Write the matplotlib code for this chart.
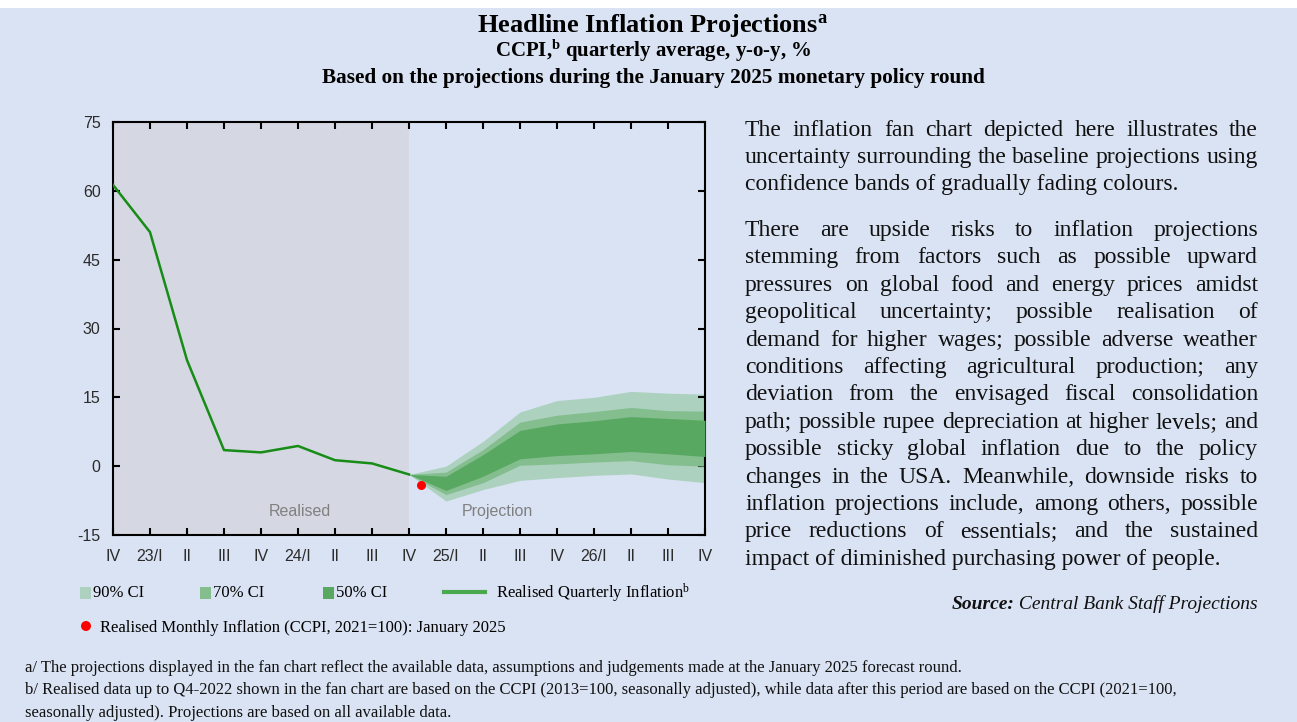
import numpy as np
import matplotlib
matplotlib.use("Agg")
import matplotlib.pyplot as plt
from matplotlib.patches import Rectangle, Ellipse
from matplotlib.lines import Line2D

plt.rcParams["mathtext.fontset"] = "custom"
plt.rcParams["mathtext.rm"] = "Liberation Serif"
plt.rcParams["mathtext.bf"] = "Liberation Serif:bold"
plt.rcParams["mathtext.it"] = "Liberation Serif:italic"
plt.rcParams["axes.unicode_minus"] = False

W, H = 1297, 722

# ---- data ----
quarter_labels = ["IV", "23/I", "II", "III", "IV", "24/I", "II", "III", "IV",
                  "25/I", "II", "III", "IV", "26/I", "II", "III", "IV"]
realised = [61.3, 51.0, 23.1, 3.5, 3.0, 4.4, 1.3, 0.6, -1.8]   # Q4-22 .. Q4-24
# fan bands, Q4-24 .. Q4-26
ci90_hi = [-1.8, 0.0, 5.4, 11.8, 14.3, 15.0, 16.3, 15.9, 15.7]
ci70_hi = [-1.8, -1.3, 3.6, 9.6, 11.1, 11.9, 12.8, 12.1, 12.0]
ci50_hi = [-1.8, -2.2, 2.5, 7.8, 9.2, 9.9, 10.8, 10.4, 10.0]
ci50_lo = [-1.8, -5.3, -2.2, 1.6, 2.3, 2.7, 3.2, 2.7, 2.1]
ci70_lo = [-1.8, -6.2, -3.6, 0.2, 0.5, 0.9, 1.2, 0.3, 0.0]
ci90_lo = [-1.8, -7.6, -5.1, -3.1, -2.5, -2.0, -1.7, -2.8, -3.6]
monthly_pos = 8.33          # January 2025
monthly_val = -4.0

para1 = ["The inflation fan chart depicted here illustrates the",
         "uncertainty surrounding the baseline projections using",
         "confidence bands of gradually fading colours."]
para2 = ["There are upside risks to inflation projections",
         "stemming from factors such as possible upward",
         "pressures on global food and energy prices amidst",
         "geopolitical uncertainty; possible realisation of",
         "demand for higher wages; possible adverse weather",
         "conditions affecting agricultural production; any",
         "deviation from the envisaged fiscal consolidation",
         "path; possible rupee depreciation at higher levels; and",
         "possible sticky global inflation due to the policy",
         "changes in the USA. Meanwhile, downside risks to",
         "inflation projections include, among others, possible",
         "price reductions of essentials; and the sustained",
         "impact of diminished purchasing power of people."]

notes = ["a/ The projections displayed in the fan chart reflect the available data, assumptions and "
         "judgements made at the January 2025 forecast round.",
         "b/ Realised data up to Q4-2022 shown in the fan chart are based on the CCPI (2013=100, "
         "seasonally adjusted), while data after this period are based on the CCPI (2021=100,",
         "seasonally adjusted). Projections are based on all available data."]

BG = "#dae3f3"
SHADE = "#d5d8e2"
C90, C70, C50 = "#acd2bf", "#84be8f", "#58a862"
LINE = "#178c17"
SERIF = "Liberation Serif"
SANS = "Liberation Sans"

fig = plt.figure(figsize=(W / 100, H / 100), dpi=100, facecolor="white")
fig.add_artist(Rectangle((0, 0), 1, 1 - 8 / H, transform=fig.transFigure,
                         facecolor=BG, edgecolor="none", zorder=-10))
renderer = fig.canvas.get_renderer()


def fx(px):
    return px / W


def fy(py):
    return 1 - py / H


def text_width(s, **kw):
    t = fig.text(0, 0, s, **kw)
    w = t.get_window_extent(renderer).width
    t.remove()
    return w


def put_line(line, x0, x1, base, last, **kw):
    """Left-aligned if last, otherwise justified between x0 and x1 (pixels)."""
    if last:
        fig.text(fx(x0), fy(base), line, va="baseline", **kw)
        return
    words = line.split()
    widths = [text_width(w, **kw) for w in words]
    gap = (x1 - x0 - sum(widths)) / (len(words) - 1)
    x = x0
    for w, wd in zip(words, widths):
        fig.text(fx(x), fy(base), w, va="baseline", **kw)
        x += wd + gap


# ---- titles ----
fig.text(fx(653), fy(32), r"Headline Inflation Projections$^{\mathbf{a}}$", ha="center",
         va="baseline", family=SERIF, weight="bold", fontsize=19)
fig.text(fx(653), fy(57), r"CCPI,$^{\mathbf{b}}$ quarterly average, y-o-y, %", ha="center",
         va="baseline", family=SERIF, weight="bold", fontsize=15)
fig.text(fx(653), fy(83), "Based on the projections during the January 2025 monetary policy round",
         ha="center", va="baseline", family=SERIF, weight="bold", fontsize=15.3)

# ---- chart ----
ax = fig.add_axes([fx(113), fy(535), fx(705) - fx(113), fy(122) - fy(535)])
ax.set_facecolor(BG)
x_real = np.arange(len(realised))
x_proj = np.arange(len(realised) - 1, len(quarter_labels))
ax.axvspan(0, 8, color=SHADE, lw=0, zorder=0)
ax.fill_between(x_proj, ci90_lo, ci90_hi, color=C90, lw=0, zorder=1)
ax.fill_between(x_proj, ci70_lo, ci70_hi, color=C70, lw=0, zorder=2)
ax.fill_between(x_proj, ci50_lo, ci50_hi, color=C50, lw=0, zorder=3)
ax.plot(x_real, realised, color=LINE, lw=1.8, zorder=4)
ax.plot([monthly_pos], [monthly_val], "o", color="#ff0000", ms=6.5, mec="none", zorder=5)

ax.set_xlim(0, 16)
ax.set_ylim(-15, 75)
ax.set_yticks(np.arange(-15, 76, 15))
ax.set_xticks(np.arange(len(quarter_labels)))
ax.set_xticklabels(quarter_labels)
ax.tick_params(direction="in", top=True, right=True, length=5, width=1.5,
               labelsize=11.5, labelcolor="#2b2b2b")
ax.tick_params(axis="x", pad=10)
ax.tick_params(axis="y", pad=9)
for lab in ax.get_xticklabels() + ax.get_yticklabels():
    lab.set_family(SANS)
for sp in ax.spines.values():
    sp.set_linewidth(1.5)
ax.text(5.05, -9.8, "Realised", ha="center", va="center", color="#808080",
        family=SANS, fontsize=11.5)
ax.text(10.4, -9.8, "Projection", ha="center", va="center", color="#808080",
        family=SANS, fontsize=11.5)

# ---- legend (manual) ----
for x0, col, lab in [(80, C90, "90% CI"), (200, C70, "70% CI"), (323, C50, "50% CI")]:
    fig.add_artist(Rectangle((fx(x0), fy(599)), 11 / W, 12 / H, transform=fig.transFigure,
                             facecolor=col, edgecolor="none"))
    fig.text(fx(x0 + 13), fy(593), lab, va="center", family=SERIF, fontsize=12)
fig.add_artist(Line2D([fx(444), fx(485)], [fy(592), fy(592)], transform=fig.transFigure,
                      color="#4aa84f", lw=3))
fig.text(fx(496), fy(593), r"Realised Quarterly Inflation$^{\mathrm{b}}$", va="center",
         family=SERIF, fontsize=12)
fig.add_artist(Ellipse((fx(86), fy(626)), 10 / W, 10 / H, transform=fig.transFigure,
                       facecolor="#ff0000", edgecolor="none"))
fig.text(fx(100), fy(628), "Realised Monthly Inflation (CCPI, 2021=100): January 2025",
         va="center", family=SERIF, fontsize=12)

# ---- justified commentary ----
TXT = dict(family=SERIF, fontsize=17, color="#111111")
for k, line in enumerate(para1):
    put_line(line, 745, 1258, 136 + k * 27.2, k == len(para1) - 1, **TXT)
for k, line in enumerate(para2):
    put_line(line, 745, 1258, 236 + k * 27.4, k == len(para2) - 1, **TXT)

SRC = dict(family=SERIF, style="italic", fontsize=14, color="#111111")
rest = " Central Bank Staff Projections"
w_rest = text_width(rest, **SRC)
fig.text(fx(1258), fy(609), rest, ha="right", va="baseline", **SRC)
fig.text(fx(1258 - w_rest), fy(609), "Source:", ha="right", va="baseline",
         weight="bold", **SRC)

# ---- footnotes ----
NOTE = dict(family=SERIF, fontsize=12, color="#111111")
for k, n in enumerate(notes):
    put_line(n, 25, 1290, 672 + k * 22.5, True, **NOTE)

fig.savefig("out.png", dpi=100, facecolor=fig.get_facecolor())
